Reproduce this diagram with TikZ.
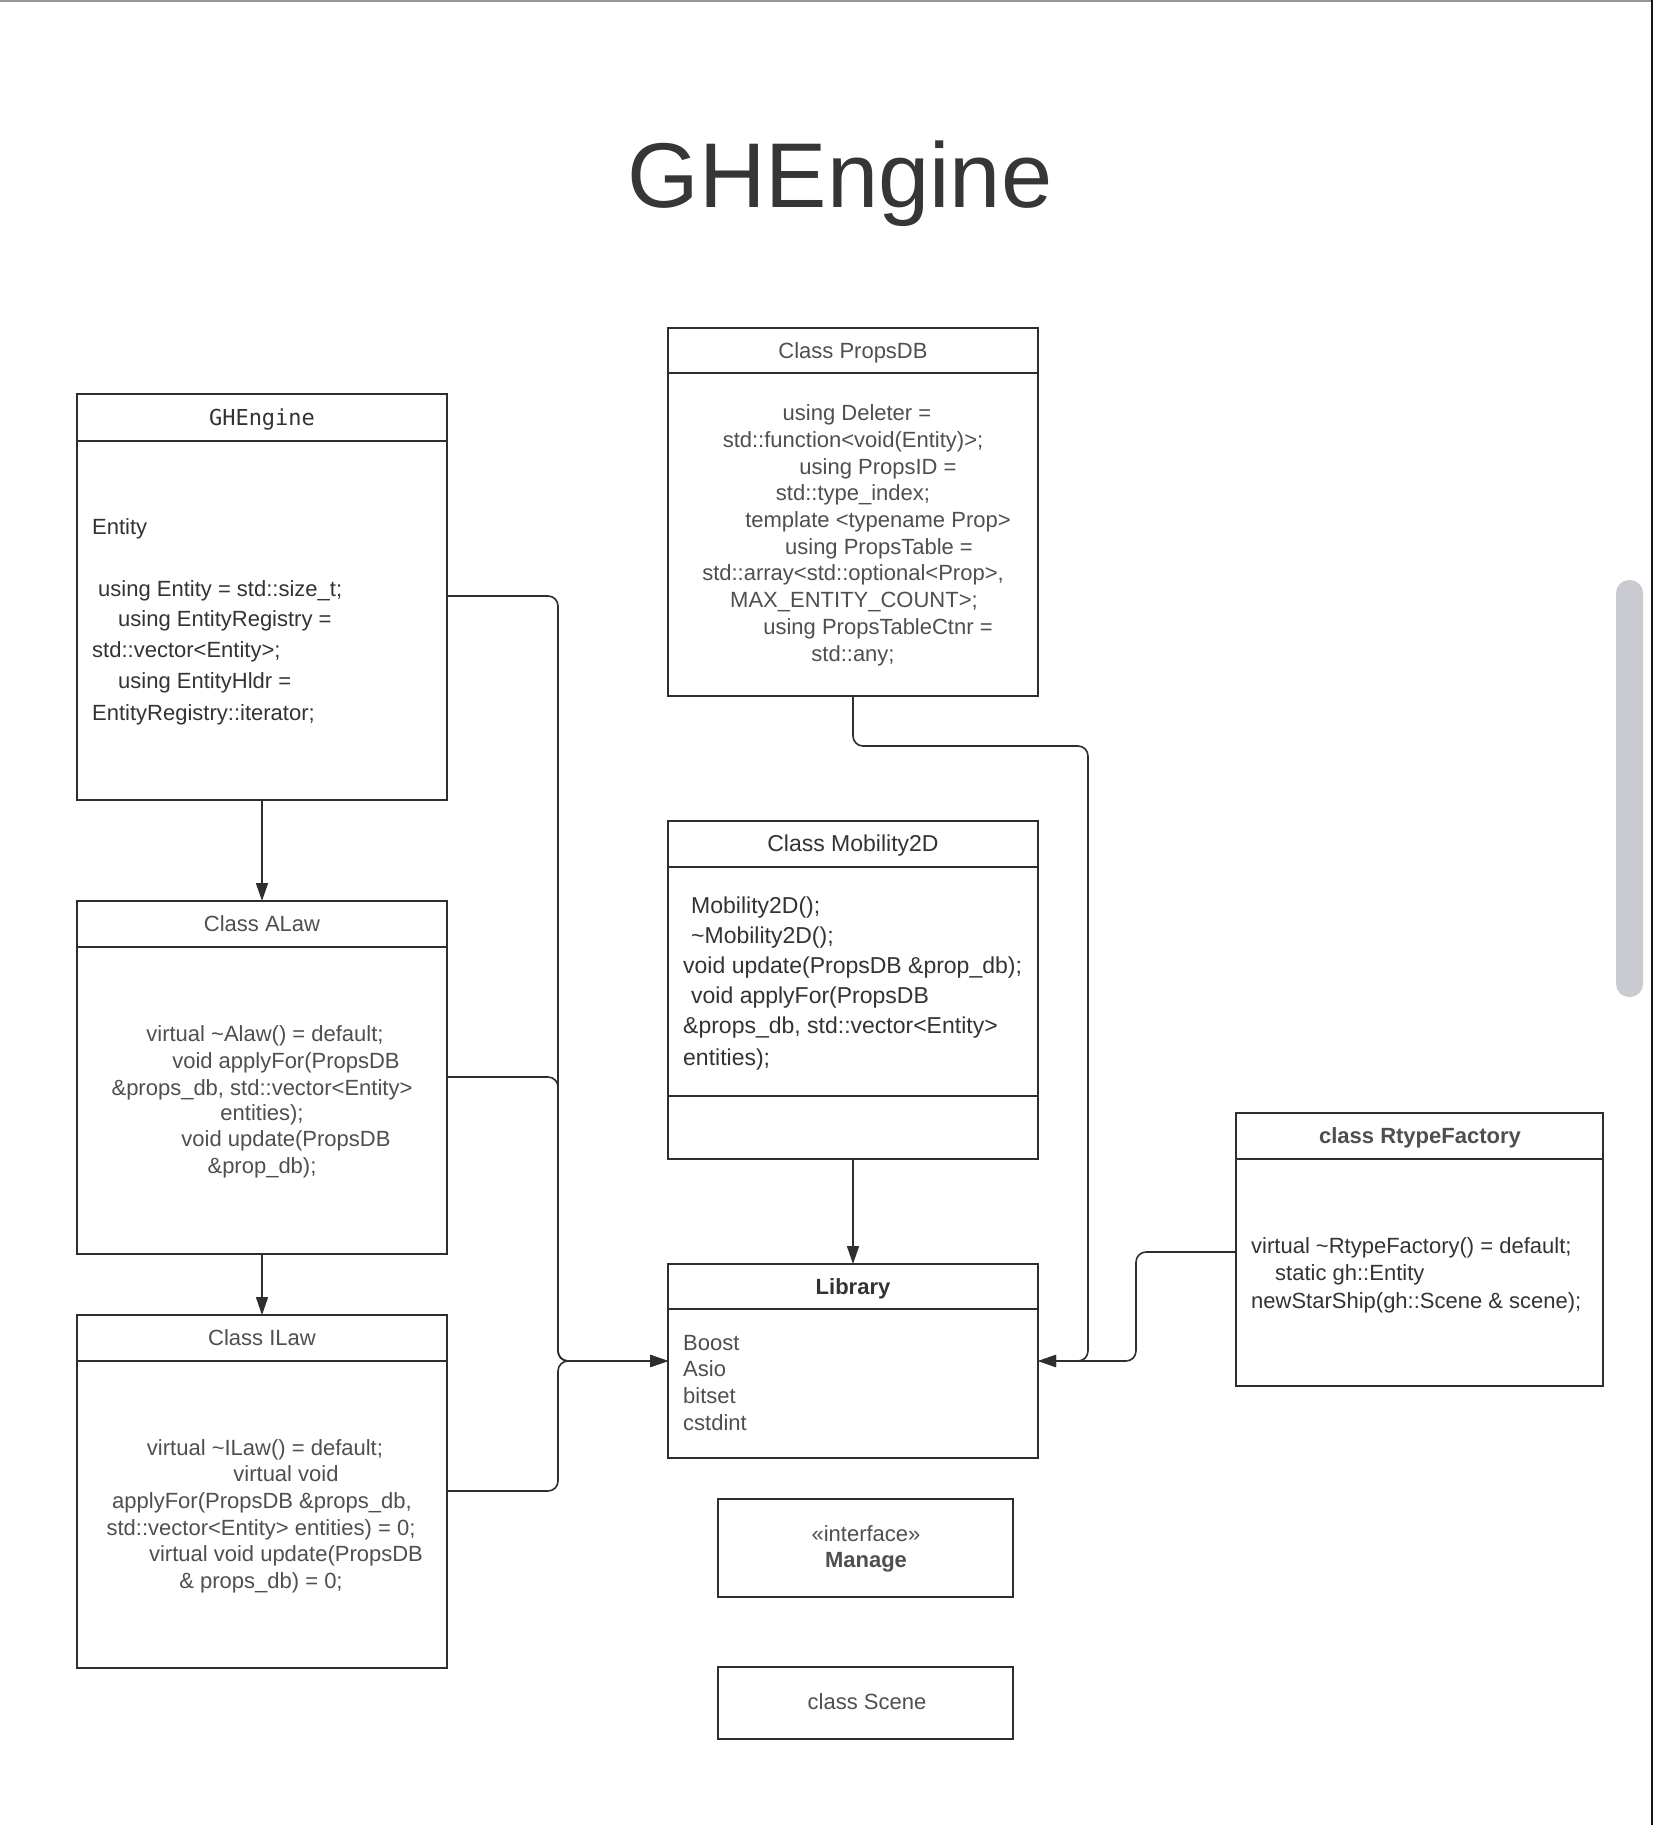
\documentclass[tikz,border=0pt]{standalone}
\usepackage{fontspec}
\setmainfont{Liberation Sans}
\newfontfamily\ghmono{DejaVu Sans Mono}
\usetikzlibrary{arrows.meta}
\definecolor{linec}{HTML}{2E2E2E}
\definecolor{txtdark}{HTML}{333333}
\definecolor{txtmid}{HTML}{4F4F4F}
\definecolor{titlec}{HTML}{363636}
\definecolor{scrollc}{HTML}{C9CBD0}
\begin{document}
\begin{tikzpicture}[x=1pt,y=-1pt,
  box/.style={draw=linec, line width=2.4pt, anchor=north west, inner sep=0pt, outer sep=0pt},
  divl/.style={draw=linec, line width=2.4pt},
  conn/.style={draw=linec, line width=1.6pt, rounded corners=10pt},
  arr/.style={-{Triangle[length=18pt,width=12pt]}},
  txt/.style={font=\fontsize{22}{26}\selectfont, inner sep=0pt, text height=20pt, text depth=4pt, text=txtmid},
  txtd/.style={txt, text=txtdark},
  lft/.style={anchor=west},
  hdr/.style={txt, text=txtmid},
  hdrb/.style={txt, text=txtdark, font=\fontsize{22}{26}\selectfont\bfseries}
]
\useasboundingbox (0,0) rectangle (1653,1825);
\fill[white] (0,0) rectangle (1653,1825);
% screenshot frame
\draw[line width=2pt, color={rgb,255:red,150;green,150;blue,150}] (0,1) coordinate (tl) -- (1653,1) coordinate (tr);
\draw[line width=2pt, color={rgb,255:red,20;green,20;blue,20}] (1652,0) coordinate (rt) -- (1652,1825) coordinate (rb);
\fill[scrollc, rounded corners=13pt] (1616,580) rectangle (1643,997);

% title
\node[font=\fontsize{92}{92}\selectfont, anchor=base, text=titlec, inner sep=0pt] (title) at (840,207) {GHEngine};

% boxes (line centres)
\node[box, minimum width=370pt, minimum height=406pt] (ghe) at (77,394) {};
\node[box, minimum width=370pt, minimum height=353pt] (alaw) at (77,901) {};
\node[box, minimum width=370pt, minimum height=353pt] (ilaw) at (77,1315) {};
\node[box, minimum width=370pt, minimum height=368pt] (pdb) at (668,328) {};
\node[box, minimum width=370pt, minimum height=338pt] (mob) at (668,821) {};
\node[box, minimum width=370pt, minimum height=194pt] (lib) at (668,1264) {};
\node[box, minimum width=295pt, minimum height=98pt] (mng) at (718,1499) {};
\node[box, minimum width=295pt, minimum height=72pt] (scn) at (718,1667) {};
\node[box, minimum width=367pt, minimum height=273pt] (rtf) at (1236,1113) {};

% dividers
\draw[divl] (ghe.west |- 0,441) -- (ghe.east |- 0,441);
\draw[divl] (alaw.west |- 0,947) -- (alaw.east |- 0,947);
\draw[divl] (ilaw.west |- 0,1361) -- (ilaw.east |- 0,1361);
\draw[divl] (pdb.west |- 0,373) -- (pdb.east |- 0,373);
\draw[divl] (mob.west |- 0,867) -- (mob.east |- 0,867);
\draw[divl] (mob.west |- 0,1096) -- (mob.east |- 0,1096);
\draw[divl] (lib.west |- 0,1309) -- (lib.east |- 0,1309);
\draw[divl] (rtf.west |- 0,1159) -- (rtf.east |- 0,1159);

% GHEngine
\node[txtd, font=\fontsize{22}{26}\selectfont\ghmono] (gheh) at (262,417) {GHEngine};
\node[txtd, lft] (ghe1) at (92,526) {Entity};
\node[txtd, lft] (ghe2) at (98,588) {using Entity = std::size\_t;};
\node[txtd, lft] (ghe3) at (118,618) {using EntityRegistry =};
\node[txtd, lft] (ghe4) at (92,649) {std::vector<Entity>;};
\node[txtd, lft] (ghe5) at (118,680) {using EntityHldr =};
\node[txtd, lft] (ghe6) at (92,712) {EntityRegistry::iterator;};

% ALaw
\node[hdr] (alawh) at (262,923) {Class ALaw};
\node[txt] (al1) at (265,1033) {virtual \textasciitilde Alaw() = default;};
\node[txt] (al2) at (286,1060) {void applyFor(PropsDB};
\node[txt] (al3) at (262,1087) {\&props\_db, std::vector<Entity>};
\node[txt] (al4) at (262,1112) {entities);};
\node[txt] (al5) at (286,1138) {void update(PropsDB};
\node[txt] (al6) at (262,1165) {\&prop\_db);};

% ILaw
\node[hdr] (ilawh) at (262,1337) {Class ILaw};
\node[txt] (il1) at (265,1447) {virtual \textasciitilde ILaw() = default;};
\node[txt] (il2) at (286,1473) {virtual void};
\node[txt] (il3) at (262,1500) {applyFor(PropsDB \&props\_db,};
\node[txt] (il4) at (261,1527) {std::vector<Entity> entities) = 0;};
\node[txt] (il5) at (286,1553) {virtual void update(PropsDB};
\node[txt] (il6) at (261,1580) {\& props\_db) = 0;};

% PropsDB
\node[hdr] (pdbh) at (853,350) {Class PropsDB};
\node[txt] (pd1) at (857,412) {using Deleter =};
\node[txt] (pd2) at (853,439) {std::function<void(Entity)>;};
\node[txt] (pd3) at (878,466) {using PropsID =};
\node[txt] (pd4) at (853,492) {std::type\_index;};
\node[txt] (pd5) at (878,519) {template <typename Prop>};
\node[txt] (pd6) at (879,546) {using PropsTable =};
\node[txt] (pd7) at (853,572) {std::array<std::optional<Prop>,};
\node[txt] (pd8) at (854,599) {MAX\_ENTITY\_COUNT>;};
\node[txt] (pd9) at (878,626) {using PropsTableCtnr =};
\node[txt] (pd10) at (853,653) {std::any;};

% Mobility2D
\node[txtd, font=\fontsize{23}{26}\selectfont] (mobh) at (853,843) {Class Mobility2D};
\node[txtd, lft, font=\fontsize{23}{26}\selectfont] (mb1) at (691,905) {Mobility2D();};
\node[txtd, lft, font=\fontsize{23}{26}\selectfont] (mb2) at (691,935) {\textasciitilde Mobility2D();};
\node[txtd, lft, font=\fontsize{23}{26}\selectfont] (mb3) at (683,965) {void update(PropsDB \&prop\_db);};
\node[txtd, lft, font=\fontsize{23}{26}\selectfont] (mb4) at (691,995) {void applyFor(PropsDB};
\node[txtd, lft, font=\fontsize{23}{26}\selectfont] (mb5) at (683,1025) {\&props\_db, std::vector<Entity>};
\node[txtd, lft, font=\fontsize{23}{26}\selectfont] (mb6) at (683,1057) {entities);};

% Library
\node[hdrb] (libh) at (853,1286) {Library};
\node[txt, lft] (lb1) at (683,1342) {Boost};
\node[txt, lft] (lb2) at (683,1368) {Asio};
\node[txt, lft] (lb3) at (683,1395) {bitset};
\node[txt, lft] (lb4) at (683,1422) {cstdint};

% Manage, Scene
\node[txt] (mng1) at (866,1533) {«interface»};
\node[hdrb, text=txtmid] (mng2) at (866,1559) {Manage};
\node[txt] (scn1) at (867,1701) {class Scene};

% RtypeFactory
\node[hdrb, text=txtmid] (rtfh) at (1420,1135) {class RtypeFactory};
\node[txtd, lft] (rf1) at (1251,1245) {virtual \textasciitilde RtypeFactory() = default;};
\node[txtd, lft] (rf2) at (1275,1272) {static gh::Entity};
\node[txtd, lft] (rf3) at (1251,1300) {newStarShip(gh::Scene \& scene);};

% connectors
\coordinate (jl) at (lib.west -| 558,0);
\coordinate (jr) at (lib.east -| 1088,0);
\coordinate (jr2) at (lib.east -| 1136,0);
\draw[conn, arr] (ghe.south) -- (alaw.north);
\draw[conn, arr] (alaw.south) -- (ilaw.north);
\draw[conn, arr] (mob.south) -- (lib.north);
\draw[conn, arr] (ghe.east |- 0,596) -| (jl) -- (lib.west);
\draw[conn, arr] (alaw.east |- 0,1077) -| (jl) -- (lib.west);
\draw[conn, arr] (ilaw.east |- 0,1491) -| (jl) -- (lib.west);
\draw[conn, arr] (pdb.south) -- (pdb.south |- 0,746) -| (jr) -- (lib.east);
\draw[conn, arr] (rtf.west |- 0,1252) -| (jr2) -- (lib.east);
\end{tikzpicture}
\end{document}
